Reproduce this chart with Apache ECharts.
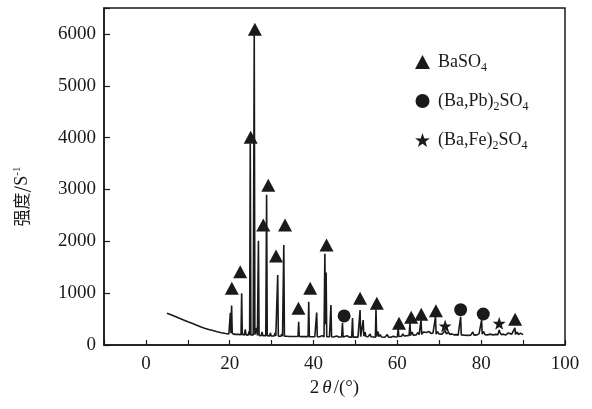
<!DOCTYPE html>
<html>
<head>
<meta charset="utf-8">
<script src="https://cdn.jsdelivr.net/npm/echarts@6/dist/echarts.min.js"></script>
<style>
  html, body { margin: 0; padding: 0; background: #fff; }
  #chart { width: 592px; height: 409px; }
</style>
</head>
<body>
<div id="chart"></div>
<script>
// XRD 图谱数据 [2θ, 强度]
const pattern = [
  [5.0, 612], [6, 585], [7, 550], [8, 515], [9, 482], [10, 450], [11, 420], [12, 385],
  [13, 353], [14, 325], [15, 300], [16, 278], [17, 257], [18, 238], [19, 222], [19.8, 212],
  [20.0, 215], [20.15, 620], [20.3, 230], [20.45, 760], [20.6, 220], [21.2, 205], [21.6, 235], [21.8, 205],
  [22.7, 200], [22.85, 1000], [23.0, 205], [23.5, 195], [23.7, 300], [23.9, 195],
  [24.4, 190], [24.6, 260], [24.75, 190], [24.9, 3880], [25.05, 195], [25.4, 190], [25.6, 195],
  [25.85, 5980], [26.0, 200], [26.2, 190], [26.4, 330], [26.6, 185],
  [26.85, 2010], [27.0, 185], [27.5, 180], [27.7, 250], [27.9, 180], [28.6, 180], [28.8, 2900],
  [28.95, 180], [29.5, 175], [29.7, 230], [29.9, 175],
  [30.6, 175], [30.8, 230], [31.0, 172], [31.45, 1350], [31.6, 172], [32.2, 170], [32.4, 210],
  [32.6, 170], [32.9, 1930], [33.05, 170], [33.6, 168], [34.0, 200], [34.3, 165], [35.2, 165],
  [36.3, 165], [36.45, 450], [36.6, 165], [37.2, 162], [37.6, 200], [38.0, 162], [38.7, 162],
  [38.85, 835], [39.0, 162], [39.3, 200], [39.6, 160], [40.3, 160], [40.75, 625], [40.9, 160],
  [41.5, 158], [42.0, 180], [42.5, 158], [42.7, 1760], [42.85, 400], [43.0, 1400], [43.15, 160],
  [43.8, 160], [44.15, 770], [44.3, 158], [44.8, 155], [45.5, 175], [46.0, 155], [46.7, 155],
  [46.9, 430], [47.05, 155], [47.5, 155], [48.0, 180], [48.5, 152], [49.1, 152], [49.3, 520],
  [49.45, 152], [50.0, 155], [50.3, 190], [50.6, 152], [50.95, 152], [51.1, 675], [51.25, 160],
  [51.7, 160], [51.85, 480], [52.0, 170], [52.3, 250], [52.5, 165], [52.8, 200], [53.0, 160],
  [53.5, 210], [53.7, 160], [54.0, 150], [54.75, 150], [54.9, 690], [55.05, 165], [55.4, 260],
  [55.6, 160], [55.9, 200], [56.2, 155], [57.0, 150], [57.6, 200], [57.9, 150], [58.5, 150],
  [59.0, 170], [59.5, 155], [60.0, 160], [60.2, 330], [60.35, 165], [60.8, 195], [61.0, 170],
  [61.3, 215], [61.6, 175], [62.0, 200], [62.3, 180], [62.8, 185], [63.0, 425], [63.15, 185],
  [63.5, 250], [63.8, 190], [64.1, 215], [64.5, 195], [64.9, 240], [65.2, 200], [65.5, 200],
  [65.65, 480], [65.8, 205], [66.2, 250], [66.5, 215], [66.9, 240], [67.2, 215], [67.6, 260],
  [68.0, 220], [68.5, 230], [68.9, 210], [69.1, 545], [69.25, 210], [69.6, 260], [69.9, 215],
  [70.3, 240], [70.7, 210], [71.0, 220], [71.4, 280], [71.7, 215], [72.2, 250], [72.5, 205],
  [73.0, 215], [73.5, 195], [74.0, 200], [74.5, 190], [74.9, 195], [75.1, 545], [75.25, 195],
  [75.6, 200], [76.0, 190], [76.8, 185], [77.5, 190], [78.0, 250], [78.3, 190], [79.0, 195],
  [79.5, 220], [79.9, 200], [80.1, 480], [80.25, 210], [80.6, 260], [80.9, 200], [81.5, 195],
  [82.2, 210], [82.8, 195], [83.5, 205], [84.0, 200], [84.3, 290], [84.5, 240], [84.8, 200],
  [85.3, 210], [85.8, 190], [86.4, 230], [86.8, 195], [87.3, 210], [87.7, 200], [88.05, 330],
  [88.2, 205], [88.6, 250], [88.9, 200], [89.4, 230], [89.7, 195], [90.0, 200]
]

// 物相标记位置
const baso4Marks = [
  [20.5, 1094], [22.5, 1415], [25.0, 4008], [26.0, 6090], [28.0, 2316], [29.2, 3080],
  [31.05, 1718], [33.2, 2316], [36.4, 708], [39.2, 1094], [43.1, 1930], [51.1, 900],
  [55.1, 805], [60.4, 418], [63.3, 534], [65.7, 592], [69.2, 663], [88.1, 496]
]
const baPbMarks = [[47.3, 560], [75.1, 681], [80.5, 598]]
const baFeMarks = [[71.4, 367], [84.3, 418]]

const xTicks = [-10, 100, 10]   // min, max, interval
const yTicks = [0, 6500, 1000]

const starPath = 'path://M50,0 L61.8,35.1 L97.6,34.5 L69.1,56.7 L79.4,90.5 L50,70 L20.6,90.5 L30.9,56.7 L2.4,34.5 L38.2,35.1 Z'
const serif = 'Liberation Serif'
const ink = '#1a1a1a'

const chart = echarts.init(document.getElementById('chart'))

const markSeries = (name, data, symbol, size) => ({
  name: name,
  type: 'scatter',
  data: data,
  symbol: symbol,
  symbolSize: size,
  itemStyle: { color: ink, opacity: 1 },
  z: 3
})

chart.setOption({
  animation: false,
  grid: {
    left: 104, right: 27, top: 8, bottom: 64,
    show: true, borderColor: ink, borderWidth: 1.5
  },
  legend: {
    orient: 'vertical',
    left: 410, top: 48,
    itemWidth: 15, itemHeight: 14,
    itemGap: 18,
    data: ['a', 'b', 'c'],
    formatter: n => ({
      a: '{m|BaSO}{s|4}',
      b: '{m|(Ba,Pb)}{s|2}{m|SO}{s|4}',
      c: '{m|(Ba,Fe)}{s|2}{m|SO}{s|4}'
    })[n],
    textStyle: {
      padding: [0, 0, 0, 3],
      rich: {
        m: { fontFamily: serif, fontSize: 18, color: ink, lineHeight: 24, verticalAlign: 'middle' },
        s: { fontFamily: serif, fontSize: 12, color: ink, lineHeight: 24, verticalAlign: 'bottom' }
      }
    }
  },
  xAxis: {
    type: 'value',
    min: xTicks[0], max: xTicks[1], interval: xTicks[2],
    name: '{n|2}{i|θ}{n|/(°)}',
    nameLocation: 'middle',
    nameGap: 25,
    nameTextStyle: {
      rich: {
        n: { fontFamily: serif, fontSize: 19, color: ink },
        i: { fontFamily: serif, fontSize: 19, fontStyle: 'italic', color: ink, padding: [0, 2, 0, 3] }
      }
    },
    axisLine: { lineStyle: { color: ink, width: 1.5 } },
    axisTick: { inside: true, length: 5, lineStyle: { color: ink, width: 1.2 } },
    axisLabel: {
      margin: 10,
      fontFamily: serif, fontSize: 19, color: ink,
      formatter: v => (v % 20 === 0 ? String(v) : '')
    },
    splitLine: { show: false }
  },
  yAxis: {
    type: 'value',
    min: yTicks[0], max: yTicks[1], interval: yTicks[2],
    name: '{c|强度/}{n|S}{p|-1}',
    nameLocation: 'middle',
    nameGap: 72,
    nameRotate: 90,
    nameTextStyle: {
      padding: [0, 40, 0, 0],
      rich: {
        c: { fontFamily: 'Noto Sans CJK SC', fontSize: 17, color: ink, lineHeight: 20 },
        n: { fontFamily: serif, fontSize: 18, color: ink, lineHeight: 20 },
        p: { fontFamily: serif, fontSize: 11, color: ink, lineHeight: 20, verticalAlign: 'top' }
      }
    },
    axisLine: { show: true, onZero: false, lineStyle: { color: ink, width: 1.5 } },
    axisTick: { show: true, inside: true, length: 6, lineStyle: { color: ink, width: 1.2 } },
    axisLabel: {
      margin: 8,
      fontFamily: serif, fontSize: 19, color: ink,
      formatter: v => (v > 6000 ? '' : String(v))
    },
    splitLine: { show: false }
  },
  series: [
    {
      type: 'line',
      data: pattern,
      showSymbol: false,
      lineStyle: { color: ink, width: 1.6 },
      z: 2
    },
    markSeries('a', baso4Marks, 'triangle', [14, 13]),
    markSeries('b', baPbMarks, 'circle', 13),
    markSeries('c', baFeMarks, starPath, 13)
  ]
})
</script>
</body>
</html>
